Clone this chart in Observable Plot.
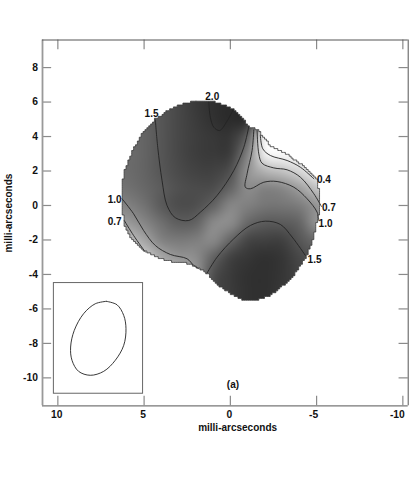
<!DOCTYPE html>
<html><head><meta charset="utf-8">
<script src="https://cdn.jsdelivr.net/npm/d3@7"></script>
<script src="https://cdn.jsdelivr.net/npm/@observablehq/plot@0.6"></script>
<style>html,body{margin:0;padding:0;background:#fff}svg{display:block}</style>
</head><body><div id="c"></div>
<script>
const gridX = [7,6,5,4,3,2,1,0,-1,-2,-3,-4,-5,-6];
const gridY = [7,6,5,4,3,2,1,0,-1,-2,-3,-4,-5,-6];
const grey = [
 [110,105,95,85,72,60,50,44,55,150,235,245,245,245],
 [110,105,95,85,72,58,48,44,52,150,235,245,245,245],
 [108,105,98,86,72,60,50,44,55,150,235,245,245,245],
 [106,106,100,86,72,62,56,56,100,235,245,245,245,245],
 [108,108,100,86,72,62,58,64,130,235,248,248,248,248],
 [112,108,100,87,75,67,66,82,145,180,195,215,240,245],
 [118,114,104,92,80,75,78,102,138,132,138,160,195,215],
 [138,130,115,92,78,80,100,132,128,118,118,126,150,170],
 [165,155,135,112,95,100,135,138,105,92,92,102,145,160],
 [195,190,165,132,122,126,135,102,72,66,66,86,108,120],
 [215,210,200,168,150,140,100,68,56,50,55,72,88,100],
 [215,210,200,190,190,150,82,60,50,48,54,68,85,95],
 [215,210,200,190,190,150,78,60,50,48,56,68,85,95],
 [215,210,200,190,190,150,78,60,50,48,56,68,85,95]
];
const outlineX = [1.93,1.16,0.38,-0.20,-0.68,-1.07,-1.55,-1.94,-2.32,-2.90,-3.48,-4.06,-4.64,-5.03,-5.13,-5.22,-5.22,-5.03,-4.84,-4.45,-3.87,-3.10,-2.32,-1.55,-0.78,0.00,0.77,1.35,1.83,2.32,3.29,4.25,5.03,5.70,6.09,6.22,6.28,6.28,6.09,5.70,5.12,4.35,3.48,2.70,1.93];
const outlineY = [6.09,6.05,5.85,5.55,5.12,4.58,4.39,3.96,3.44,3.15,2.84,2.42,1.93,1.45,0.97,0.29,-0.19,-0.87,-1.83,-2.90,-3.86,-4.64,-5.22,-5.51,-5.51,-5.12,-4.54,-3.92,-3.67,-3.38,-3.28,-3.00,-2.61,-1.93,-1.25,-0.48,0.48,1.26,2.13,3.09,4.16,5.02,5.60,5.93,6.09];
const contours = [
 {x:[1.25,1.16,0.96,0.62,0.23,-0.16], y:[5.99,5.12,4.54,4.35,4.83,5.55]},
 {x:[4.35,4.21,3.96,3.67,3.19,2.41,1.74,0.77,-0.20,-0.78,-1.07], y:[4.97,3.38,1.45,0.00,-0.71,-0.87,-0.39,0.58,2.03,3.38,4.58]},
 {x:[1.35,0.77,-0.20,-1.16,-2.03,-2.90,-3.58,-4.35], y:[-3.92,-3.00,-1.93,-1.16,-0.91,-1.10,-1.83,-2.90]},
 {x:[-1.36,-1.26,-0.97,-0.87,-1.16,-1.94,-2.71,-3.68,-4.45,-5.03,-5.13], y:[4.39,3.19,1.84,1.06,0.97,1.35,1.39,1.06,0.39,-0.39,-0.87]},
 {x:[-1.55,-1.65,-1.84,-2.52,-3.29,-4.06,-4.84,-5.28], y:[4.35,2.99,2.45,2.18,2.07,1.64,0.68,-0.06]},
 {x:[-1.74,-1.88,-2.32,-3.29,-4.06,-4.84], y:[4.06,3.29,2.90,2.61,2.22,1.55]},
 {x:[6.28,5.61,5.03,4.35,3.48,2.51,2.12,1.83], y:[0.39,-0.48,-1.45,-2.32,-2.84,-3.09,-3.48,-3.67]},
 {x:[6.15,5.61,4.93], y:[-0.87,-1.74,-2.70]}
];
const levelText = ["2.0","1.5","1.0","0.7","0.4","0.7","1.0","1.5"];
const levelX = [1.05,4.57,6.71,6.71,-5.42,-5.71,-5.52,-4.88];
const levelY = [6.3,5.3,0.33,-0.93,1.49,-0.13,-1.08,-3.13];
const beamX = [7.19,6.57,6.18,6.05,6.18,6.67,7.34,8.12,8.80,9.18,9.26,9.05,8.51,7.83];
const beamY = [-5.56,-5.76,-6.38,-7.15,-8.11,-8.98,-9.62,-9.85,-9.62,-8.98,-8.21,-7.25,-6.28,-5.70];
const insetX = [10.23,5.06];
const insetY = [-4.50,-10.92];
const xTicks = [10,5,0,-5,-10];
const yTicks = [8,6,4,2,0,-2,-4,-6,-8,-10];
const axisLabel = "milli-arcseconds";
const mapCell = 0.11;

const cr = (a,b,c,d,t)=>b+0.5*t*(c-a+t*(2*a-5*b+4*c-d+t*(3*(b-c)+d-a)));
const clampI = (v,n)=>Math.max(0,Math.min(n-1,v));
function sampleGrey(x,y){
  const u=gridX[0]-x, v=gridY[0]-y;
  const i=Math.floor(u), j=Math.floor(v), s=u-i, t=v-j;
  const row=k=>{
    const r=grey[clampI(j+k,gridY.length)];
    return cr(r[clampI(i-1,gridX.length)],r[clampI(i,gridX.length)],r[clampI(i+1,gridX.length)],r[clampI(i+2,gridX.length)],s);
  };
  return Math.max(0,Math.min(255,cr(row(-1),row(0),row(1),row(2),t)));
}
// staircase edge of the pixelated map, following the read outline
function staircase(xs,ys,c){
  const pts=[]; let last=null;
  const add=(a,b)=>{
    if(last&&last[0]===a&&last[1]===b) return;
    if(last&&last[0]!==a&&last[1]!==b) pts.push({x:a*c,y:last[1]*c});
    pts.push({x:a*c,y:b*c}); last=[a,b];
  };
  for(let k=0;k<xs.length-1;k++){
    for(let t=0;t<1;t+=0.05){
      add(Math.round((xs[k]+(xs[k+1]-xs[k])*t)/c),Math.round((ys[k]+(ys[k+1]-ys[k])*t)/c));
    }
  }
  pts.push({...pts[0]});
  return pts;
}
const outline = staircase(outlineX,outlineY,mapCell);
const font = "Liberation Sans";
const clipToOutline = (index, scales, values, dims, ctx, next) => {
  const g = next(index, scales, values, dims, ctx);
  const d = "M" + outline.map(p=>scales.x(p.x)+","+scales.y(p.y)).join("L") + "Z";
  const id = "outline-clip";
  const cp = d3.create("svg:clipPath").attr("id", id);
  cp.append("path").attr("d", d);
  g.insertBefore(cp.node(), g.firstChild);
  g.setAttribute("clip-path", `url(#${id})`);
  return g;
};
const tickColor = "#8a8a8a";
const ink = "#111";
const num = {fontSize:10.3, fontWeight:"bold", fill:ink};
const lab = {fontSize:10, fontWeight:"bold", fill:ink};
const chart = Plot.plot({
  width: 415, height: 485,
  marginLeft: 42, marginRight: 7.3, marginTop: 39.5, marginBottom: 79.7,
  x: {domain:[10.89,-10.31], axis:null},
  y: {domain:[-11.62,9.6], axis:null},
  color: {type:"linear", domain:[0,255], range:["#000","#fff"]},
  style: {fontFamily: font, background:"#fff"},
  marks: [
    Plot.raster({fill:sampleGrey, x1:7, x2:-6, y1:-6, y2:7, pixelSize:1, render: clipToOutline}),
    ...contours.map(c=>Plot.line(c.x.map((x,i)=>({x,y:c.y[i]})), {x:"x",y:"y",curve:"catmull-rom",stroke:"#222",strokeWidth:0.9})),
    Plot.line(outline, {x:"x",y:"y",stroke:"#3a3a3a",strokeWidth:0.8}),
    Plot.text(levelText, {x:(d,i)=>levelX[i], y:(d,i)=>levelY[i], text:d=>d, ...lab}),
    Plot.rect([0], {x1:()=>insetX[0], x2:()=>insetX[1], y1:()=>insetY[0], y2:()=>insetY[1], fill:"none", stroke:"#666", strokeWidth:1}),
    Plot.line(beamX.map((x,i)=>({x,y:beamY[i]})).concat([{x:beamX[0],y:beamY[0]}]), {x:"x",y:"y",curve:"catmull-rom",stroke:"#222",strokeWidth:0.9}),
    Plot.ruleX(xTicks, {x:d=>d, y1:-11.62, y2:-11.06, stroke:tickColor, strokeWidth:1.2}),
    Plot.ruleX(xTicks, {x:d=>d, y1:9.6, y2:9.04, stroke:tickColor, strokeWidth:1.2}),
    Plot.ruleY(yTicks, {y:d=>d, x1:10.89, x2:10.36, stroke:tickColor, strokeWidth:1.2}),
    Plot.ruleY(yTicks, {y:d=>d, x1:-10.31, x2:-9.78, stroke:tickColor, strokeWidth:1.2}),
    Plot.ruleX([10.89], {stroke:"#999", strokeWidth:1.8}),
    Plot.ruleX([-10.31], {stroke:"#555", strokeWidth:1}),
    Plot.ruleY([9.6], {stroke:"#555", strokeWidth:1}),
    Plot.ruleY([-11.62], {stroke:"#777", strokeWidth:1.2}),
    Plot.text(xTicks.filter(d=>d>=0), {x:d=>d, y:-12.12, text:d=>String(d), dx:-1, ...num}),
    Plot.text(xTicks.filter(d=>d===-5), {x:d=>d, y:-12.12, text:d=>String(d), dx:-3, ...num}),
    Plot.text(xTicks.filter(d=>d===-10), {x:d=>d, y:-12.12, text:d=>String(d), dx:-5.5, ...num}),
    Plot.text(yTicks, {y:d=>d, x:11.15, text:d=>String(d), textAnchor:"end", ...num}),
    Plot.text([axisLabel], {x:-0.42, y:-12.88, text:d=>d, ...lab}),
    Plot.text([axisLabel], {x:12.86, y:-0.44, text:d=>d, rotate:-90, ...lab}),
    Plot.text(["(a)"], {x:-0.15, y:-10.38, text:d=>d, ...lab})
  ]
});
document.getElementById("c").append(chart);
</script></body></html>
